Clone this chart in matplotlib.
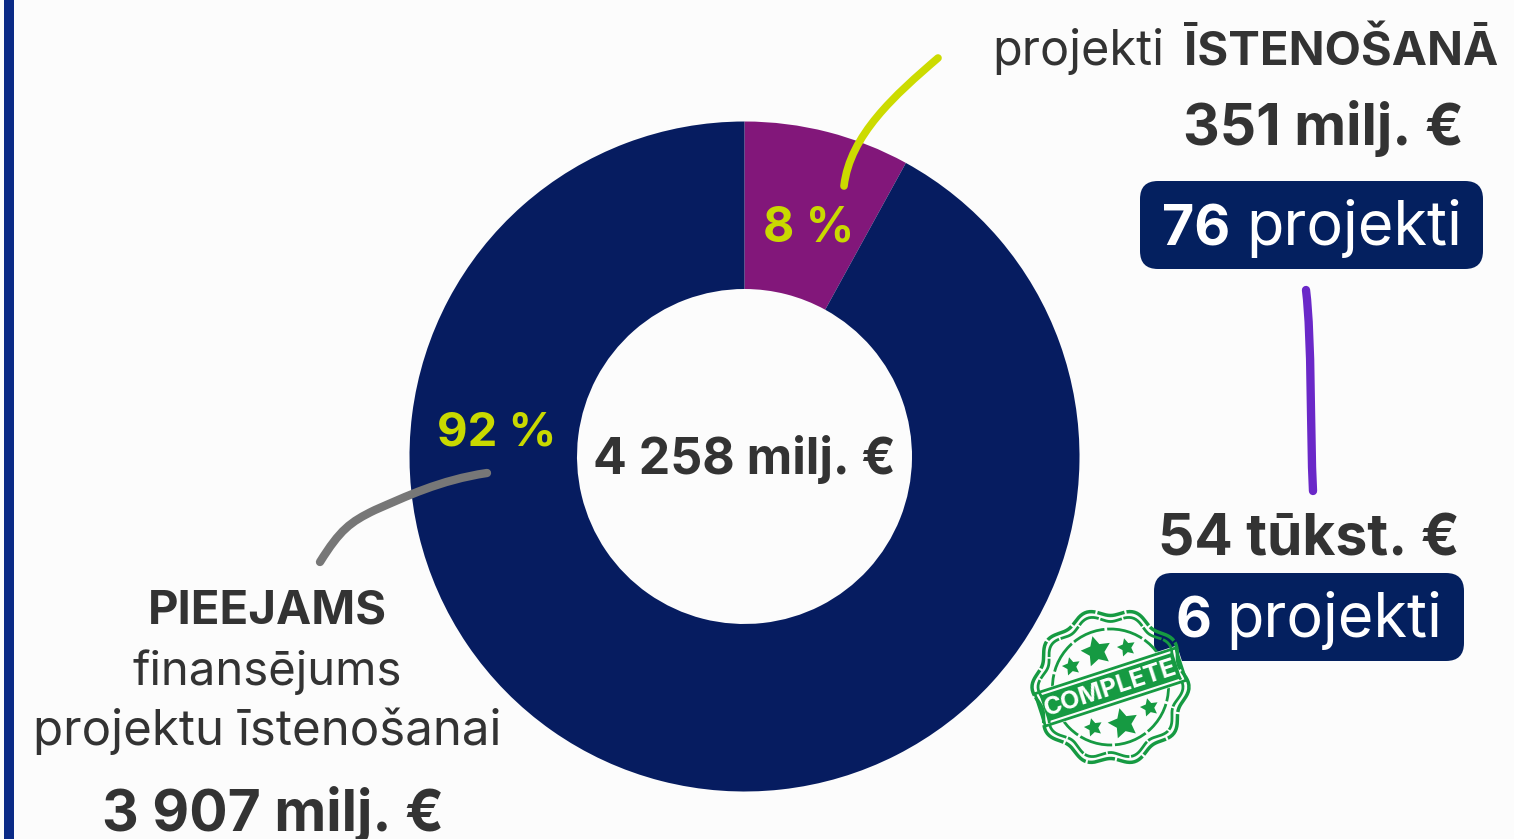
import numpy as np
import matplotlib
matplotlib.use('Agg')
import matplotlib.pyplot as plt
from matplotlib.patches import FancyBboxPatch, Rectangle, Polygon, Circle
from matplotlib.path import Path
from matplotlib.patches import PathPatch

plt.rcParams['font.family'] = ['Inter', 'DejaVu Sans']

W, H = 1514, 839

# dati
labels = ['ĪSTENOŠANĀ', 'PIEEJAMS']
values = [8, 92]
colors = ['#82177a', '#061c60']
pct_labels = ['8 %', '92 %']
total_label = '4 258 milj. €'

DARK = '#333333'
LIME = '#c9d900'
NAVY = '#04205f'
GREEN = '#169a42'

fig = plt.figure(figsize=(W / 100, H / 100), dpi=100, facecolor='#fcfcfc')
bg = fig.add_axes([0, 0, 1, 1])
bg.set_xlim(0, W)
bg.set_ylim(H, 0)
bg.axis('off')

# kreisā mala
bg.add_patch(Rectangle((4, 0), 10, H, color='#0a2a86', lw=0))

# gredzens
cx, cy, r = 744.5, 456.5, 335
ax = fig.add_axes([(cx - r) / W, 1 - (cy + r) / H, 2 * r / W, 2 * r / H], zorder=1)
ax.pie(values, colors=colors, startangle=90, counterclock=False, radius=1,
       wedgeprops=dict(width=0.5, linewidth=0))
ax.set_xlim(-1, 1)
ax.set_ylim(-1, 1)
ax.axis('off')

top = fig.add_axes([0, 0, 1, 1], zorder=2)
top.set_xlim(0, W)
top.set_ylim(H, 0)
top.axis('off')
top.patch.set_alpha(0)


def txt(x, y, s, size, weight='normal', color=DARK, ha='center'):
    return top.text(x, y, s, fontsize=size, fontweight=weight, color=color, ha=ha, va='baseline')


def stroke(pts, color, lw):
    codes = [Path.MOVETO] + [Path.CURVE4] * (len(pts) - 1)
    top.add_patch(PathPatch(Path(pts, codes), fc='none', ec=color, lw=lw, capstyle='round'))


# bultas
stroke([(938, 58), (895, 95), (850, 135), (844, 186)], '#ccdb00', 5.5)
stroke([(487, 473), (440, 480), (405, 497), (375, 510),
        (350, 522), (340, 530), (320, 562)], '#777777', 6)
stroke([(1306, 290), (1312, 340), (1310, 430), (1313, 491)], '#6a28c8', 6)

txt(cx, 474, total_label, 36, 'bold')
txt(809, 242, pct_labels[0], 34.5, 'bold', LIME)
txt(497, 445, pct_labels[1], 34, 'bold', LIME)

txt(992, 65, 'projekti', 35, ha='left')
txt(1184, 65, labels[0], 34, 'bold', ha='left')
txt(1323, 145, '351 milj. €', 41, 'bold')

for x0, y0, w, h, num, nx, tx, ty in [(1140, 181, 343, 88, '76', 1162, 1246, 245),
                                     (1154, 573, 310, 88, '6', 1176, 1226, 637)]:
    top.add_patch(FancyBboxPatch((x0 + 18, y0 + 18), w - 36, h - 36,
                                 boxstyle='round,pad=18,rounding_size=18', fc=NAVY, ec='none'))
    txt(nx, ty, num, 40, 'bold', 'white', ha='left')
    txt(tx, ty, 'projekti', 44, color='white', ha='left')

txt(1309, 555, '54 tūkst. €', 41, 'bold')

txt(267, 624, labels[1], 34, 'bold')
txt(267, 685, 'finansējums', 34)
txt(267, 745, 'projektu īstenošanai', 35.5)
txt(273, 831, '3 907 milj. €', 41, 'bold')

# zīmogs
sx, sy = 1110.5, 687
theta = np.linspace(0, 2 * np.pi, 400)
for base, lw_s in [(75, 2.5), (69, 2)]:
    rad = base + 3.5 * np.cos(10 * theta)
    top.plot(sx + rad * np.cos(theta), sy + rad * np.sin(theta), color=GREEN, lw=lw_s,
             ls=(0, (8, 0.6)))
top.add_patch(Circle((sx, sy), 58, fc='none', ec=GREEN, lw=2, ls=(0, (12, 1))))

big_stars = [(1096, 651), (1123, 723)]
small_stars = [(1126, 647), (1071, 666), (1149, 707), (1093, 727)]
top.scatter(*zip(*big_stars), marker=(5, 1, 15), s=520, color=GREEN, lw=0)
top.scatter(*zip(*small_stars), marker=(5, 1, 15), s=190, color=GREEN, lw=0)

# lente ar uzrakstu
ang = np.deg2rad(-18)
ux, uy = np.cos(ang), np.sin(ang)
vx, vy = -uy, ux


def band(half_w, half_h, **kw):
    corners = [(-half_w, -half_h), (half_w, -half_h), (half_w, half_h), (-half_w, half_h)]
    top.add_patch(Polygon([(sx + a * ux + b * vx, sy + a * uy + b * vy) for a, b in corners], **kw))


band(76, 19, fc='#fcfcfc', ec='none')
band(74, 17, fc='none', ec=GREEN, lw=2)
band(70, 13.5, fc=GREEN, ec='none')
top.text(sx, sy + 1, 'COMPLETE', fontsize=18, fontweight='bold', color='white', ha='center',
         va='center', rotation=18, rotation_mode='anchor')

fig.savefig('out.png', dpi=100, facecolor=fig.get_facecolor())
